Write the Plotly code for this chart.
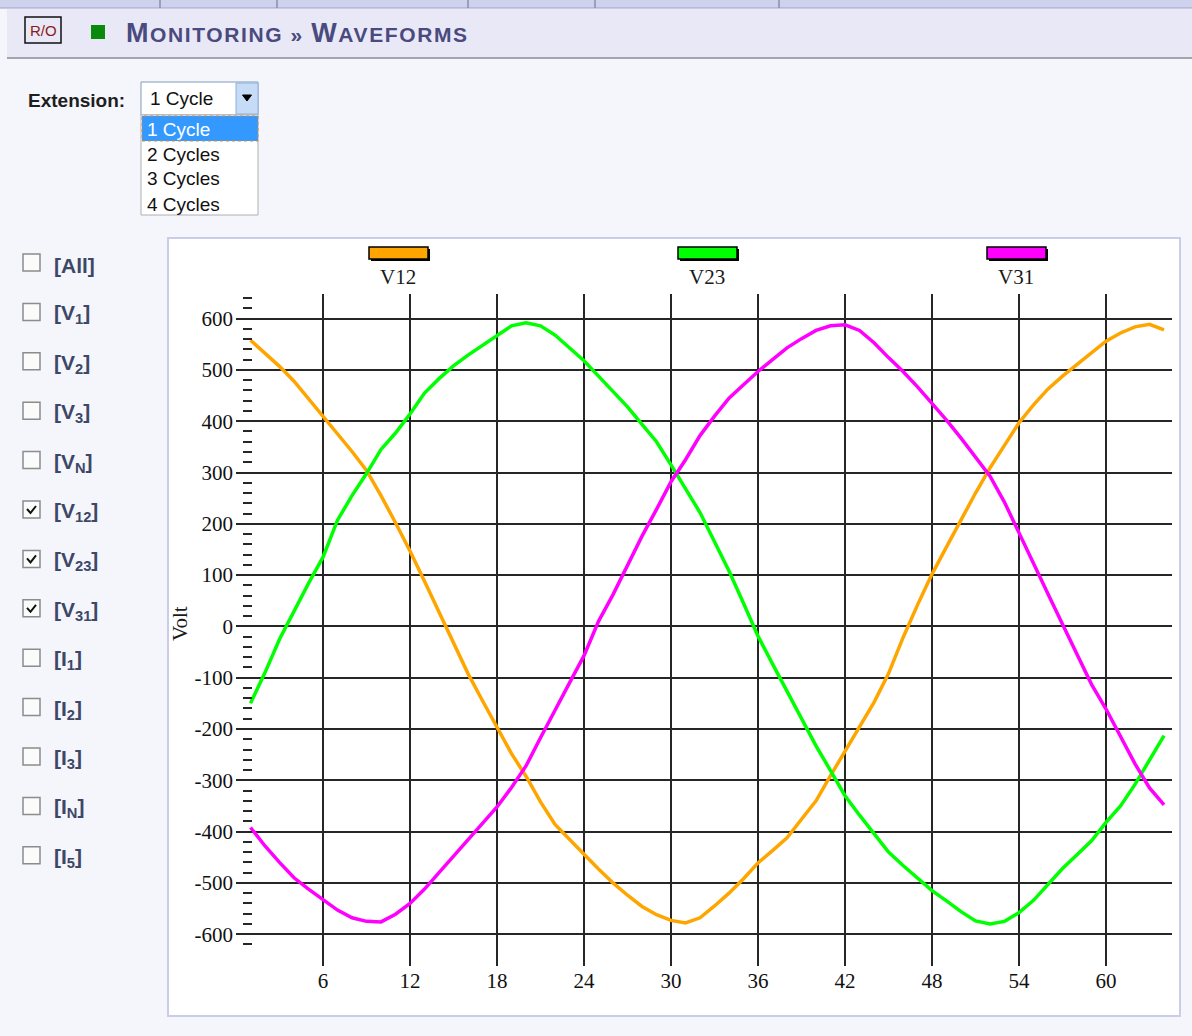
import plotly.graph_objects as go

# ---- waveform samples (one cycle, 64 samples) ----
SAMPLE = list(range(1, 65))

V12 = [558, 532, 507, 478, 444, 410, 376, 341, 304, 255,
       202, 147, 88, 28, -32, -92, -145, -198, -248, -292,
       -342, -386, -416, -444, -473, -500, -524, -546, -562, -573,
       -578, -568, -545, -520, -492, -461, -437, -412, -376, -340,
       -291, -244, -198, -148, -92, -22, 42, 102, 155, 208,
       260, 309, 354, 397, 432, 463, 488, 510, 534, 556,
       572, 584, 589, 578]

V23 = [-150, -90, -25, 30, 84, 135, 207, 255, 298, 345,
       377, 414, 455, 483, 508, 529, 548, 568, 586, 592,
       586, 568, 543, 518, 488, 458, 428, 394, 360, 315,
       270, 222, 165, 108, 45, -19, -73, -127, -180, -233,
       -281, -330, -368, -405, -440, -466, -491, -515, -535, -556,
       -574, -580, -575, -558, -534, -502, -472, -445, -418, -382,
       -350, -308, -262, -213]

V31 = [-392, -428, -460, -490, -512, -532, -553, -568, -575, -576,
       -561, -540, -512, -480, -448, -414, -383, -352, -314, -272,
       -217, -162, -110, -57, 10, 62, 120, 176, 228, 282,
       325, 372, 410, 445, 471, 497, 520, 543, 561, 577,
       586, 588, 577, 553, 524, 497, 467, 435, 402, 367,
       330, 293, 242, 181, 124, 63, 4, -53, -113, -161,
       -215, -268, -315, -348]

SERIES_NAMES = ["V12", "V23", "V31"]
SERIES_COLORS = ["#ffa500", "#00ff00", "#ff00ff"]

X_TICKS = [6, 12, 18, 24, 30, 36, 42, 48, 54, 60]
Y_TICKS = [-600, -500, -400, -300, -200, -100, 0, 100, 200, 300, 400, 500, 600]
Y_TICK_TEXT = ["-600", "-500", "-400", "-300", "-200", "-100", "0",
               "100", "200", "300", "400", "500", "600"]
Y_MINOR_TICKS = list(range(-620, 641, 20))

CHANNELS = ["[All]", "[V<sub>1</sub>]", "[V<sub>2</sub>]", "[V<sub>3</sub>]", "[V<sub>N</sub>]",
            "[V<sub>12</sub>]", "[V<sub>23</sub>]", "[V<sub>31</sub>]",
            "[I<sub>1</sub>]", "[I<sub>2</sub>]", "[I<sub>3</sub>]", "[I<sub>N</sub>]", "[I<sub>5</sub>]"]
CHECKED = [False, False, False, False, False, True, True, True,
           False, False, False, False, False]

EXTENSION_OPTIONS = ["1 Cycle", "2 Cycles", "3 Cycles", "4 Cycles"]

# ---- page geometry helpers (pixels -> paper fractions) ----
W, H = 1192, 1036


def fx(x):
    return x / W


def fy(y):
    return 1 - y / H


SERIF = "Liberation Serif"
SANS = "Liberation Sans"

fig = go.Figure()

for name, color, vals in zip(SERIES_NAMES, SERIES_COLORS, [V12, V23, V31]):
    fig.add_trace(go.Scatter(x=SAMPLE, y=vals, name=name, mode="lines",
                             line=dict(color=color, width=3.5),
                             hoverinfo="x+y+name"))

# carrier trace so the minor-tick axis is drawn
fig.add_trace(go.Scatter(x=[SAMPLE[0]], y=[Y_MINOR_TICKS[0]], yaxis="y2", mode="markers",
                         marker=dict(opacity=0), hoverinfo="skip", showlegend=False))

shapes = []
annotations = []


def rect(x0, y0, x1, y1, fill=None, line_color=None, line_width=0, layer="below", dash=None):
    line = dict(width=line_width)
    if line_color:
        line["color"] = line_color
    if dash:
        line["dash"] = dash
    shapes.append(dict(type="rect", xref="paper", yref="paper",
                       x0=fx(x0), y0=fy(y1), x1=fx(x1), y1=fy(y0),
                       fillcolor=fill if fill else "rgba(0,0,0,0)",
                       line=line, layer=layer))


def seg(x0, y0, x1, y1, color, width=1):
    shapes.append(dict(type="line", xref="paper", yref="paper",
                       x0=fx(x0), y0=fy(y0), x1=fx(x1), y1=fy(y1),
                       line=dict(color=color, width=width), layer="below"))


def path(points, fill=None, color="#000", width=1, closed=False):
    d = "M " + " L ".join(f"{fx(px)},{fy(py)}" for px, py in points)
    if closed:
        d += " Z"
    shapes.append(dict(type="path", xref="paper", yref="paper", path=d,
                       fillcolor=fill if fill else "rgba(0,0,0,0)",
                       line=dict(color=color, width=width), layer="above"))


def text(x, y, s, size, color="#111", family=SANS, xanchor="left", yanchor="middle", angle=0):
    annotations.append(dict(xref="paper", yref="paper", x=fx(x), y=fy(y), text=s,
                            showarrow=False, xanchor=xanchor, yanchor=yanchor,
                            textangle=angle, font=dict(size=size, color=color, family=family)))


# ---- header ----
rect(0, 0, W, 8, fill="#cfd2ec")
seg(0, 8, W, 8, "#9ea2c8", 1)
for dx in [160, 277, 468, 595, 779]:
    seg(dx, 0, dx, 8, "#8a8db0", 1.5)
rect(7, 9, W, 57, fill="#e8e8f6")
seg(7, 58, W, 58, "#a4a4ae", 2)

rect(25, 17, 61, 43, line_color="#111", line_width=1.5, layer="above")
text(43, 30, "R/O", 15, color="#8b1a1a", xanchor="center")
rect(91, 25, 105, 39, fill="#0a8a0a", layer="above")
text(124, 33,
     '<b><span style="letter-spacing:1.6px"><span style="font-size:27px">M</span>ONITORING » '
     '<span style="font-size:27px">W</span>AVEFORMS</span></b>',
     21, color="#4a4a7e")

# ---- extension selector ----
text(26, 100, "<b>Extension:</b>", 19, color="#1e1e1e")
rect(141, 82, 258, 115, fill="#ffffff", line_color="#7f9db9", line_width=1)
rect(236, 83, 258, 114, fill="#c6dbf5", line_color="#8fb0da", line_width=1)
path([(242.5, 95), (251.5, 95), (247, 101)], fill="#000", color="#000", width=1, closed=True)
text(148, 98, "1 Cycle", 19, color="#111")

rect(141, 115, 258, 215, fill="#ffffff", line_color="#b0b0b0", line_width=1)
rect(142, 116, 258, 141, fill="#3399ff", line_color="#d08a40", line_width=1, dash="dot")
for k, opt in enumerate(EXTENSION_OPTIONS):
    text(145, 129 + 25 * k, opt, 19, color="#ffffff" if k == 0 else "#111")

# ---- channel check boxes ----
for k, (lab, chk) in enumerate(zip(CHANNELS, CHECKED)):
    top = 254 + 49.4 * k
    rect(23, top, 40, top + 17, fill="#fbfbfb", line_color="#8c8c8c", line_width=1.5)
    if chk:
        path([(27, top + 8), (30.5, top + 12), (36, top + 5)], color="#111", width=2)
    text(52, top + 11, f"<b>{lab}</b>", 21, color="#3c4866")

# ---- chart frame ----
rect(168, 238, 1180, 1016, fill="#ffffff", line_color="#c9cde8", line_width=2)

# legend swatches above the plot
for name, color, cx in zip(SERIES_NAMES, SERIES_COLORS, [398, 707, 1016]):
    rect(cx - 27, 249, cx + 32, 261, fill="#000000", layer="above")
    rect(cx - 29, 247, cx + 30, 259, fill=color, line_color="#000", line_width=1.5, layer="above")
    text(cx, 277, name, 21, color="#1a1a1a", family=SERIF, xanchor="center")

text(180, 624, "Volt", 21, color="#1a1a1a", family=SERIF, xanchor="center", angle=-90)

X_DOMAIN = [fx(236), fx(1172)]
Y_DOMAIN = [fy(966), fy(293.5)]
Y_RANGE = [-662, 649]

fig.update_layout(
    width=W, height=H,
    margin=dict(l=0, r=0, t=0, b=0),
    paper_bgcolor="#f5f5fc",
    plot_bgcolor="rgba(0,0,0,0)",
    showlegend=False,
    shapes=shapes,
    annotations=annotations,
    xaxis=dict(domain=X_DOMAIN, range=[0, 64.55], tickmode="array", tickvals=X_TICKS,
               showgrid=True, gridcolor="#262626", gridwidth=2, zeroline=False,
               showline=False, ticks="", fixedrange=True,
               tickfont=dict(family=SERIF, size=21, color="#111")),
    yaxis=dict(domain=Y_DOMAIN, range=Y_RANGE, tickmode="array", tickvals=Y_TICKS,
               ticktext=Y_TICK_TEXT, ticklabelstandoff=2,
               showgrid=True, gridcolor="#262626", gridwidth=2, zeroline=False,
               showline=False, ticks="", fixedrange=True,
               tickfont=dict(family=SERIF, size=21, color="#111")),
    yaxis2=dict(overlaying="y", anchor="free", position=fx(252), side="left",
                range=Y_RANGE, tickmode="array", tickvals=Y_MINOR_TICKS,
                ticks="outside", ticklen=9, tickwidth=2, tickcolor="#262626",
                showticklabels=False, showgrid=False, zeroline=False, showline=False,
                fixedrange=True),
)

fig.write_html("out.html", config={"displayModeBar": False})
